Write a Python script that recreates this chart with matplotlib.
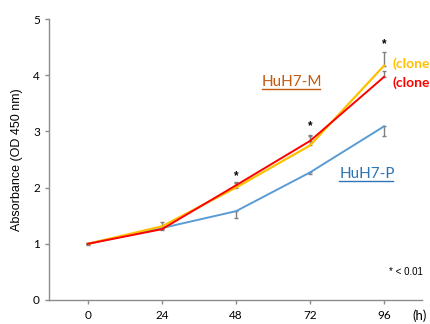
import matplotlib
matplotlib.use("Agg")
import matplotlib.pyplot as plt
import numpy as np

hours = [0, 24, 48, 72, 96]
clone_yellow = [1.00, 1.31, 2.00, 2.75, 4.17]
clone_red = [1.00, 1.26, 2.04, 2.83, 3.97]
huh7_p = [1.00, 1.28, 1.58, 2.27, 3.09]
err_yellow = [0.02, 0.07, 0.08, 0.16, 0.25]
err_red = [0.02, 0.03, 0.06, 0.10, 0.10]
err_blue = [0.02, 0.03, 0.12, 0.03, 0.18]
star_hours = [48, 72, 96]
star_y = [2.20, 3.10, 4.56]
yticks = [0, 1, 2, 3, 4, 5]

fig = plt.figure(figsize=(4.31, 3.24), dpi=100)
ax = fig.add_axes([49/431, 24/324, (422-49)/431, (300-19)/324])

grey = "#8c8c8c"
ecol = "#7f7f7f"
ax.errorbar(hours, huh7_p, yerr=[err_blue, [0]*5], fmt="none", ecolor=ecol, elinewidth=1, capsize=1.5, capthick=1, zorder=2)
ax.errorbar(hours, clone_yellow, yerr=[[0]*5, err_yellow], fmt="none", ecolor=ecol, elinewidth=1, capsize=1.5, capthick=1, zorder=2)
ax.errorbar(hours, clone_red, yerr=[[0]*5, err_red], fmt="none", ecolor=ecol, elinewidth=1, capsize=1.5, capthick=1, zorder=2)
ax.plot(hours, huh7_p, color="#5b9bd5", lw=1.4, zorder=3)
ax.plot(hours, clone_yellow, color="#ffc000", lw=1.6, zorder=3)
ax.plot(hours, clone_red, color="#ff0000", lw=1.4, zorder=4)
for h, y in zip(star_hours, star_y):
    ax.text(h, y, "*", ha="center", va="center", fontsize=8.5, fontweight="bold", family="Liberation Sans")

ax.set_xlim(-12.6, 108.3)
ax.set_ylim(0, 5)
ax.set_xticks(hours)
ax.set_yticks(yticks)
ax.tick_params(axis="both", colors=grey, labelcolor="black", length=3, width=1, direction="out")
for lab in ax.get_xticklabels() + ax.get_yticklabels():
    lab.set_family("Lato")
    lab.set_fontsize(8.5)
ax.tick_params(axis="x", pad=4)
for s in ["top", "right"]:
    ax.spines[s].set_visible(False)
for s in ["left", "bottom"]:
    ax.spines[s].set_color(grey)
    ax.spines[s].set_linewidth(1)

ax.set_ylabel("Absorbance (OD 450 nm)", fontsize=9, family="Liberation Sans", labelpad=7)

fig.text(420/431, 1-316/324, "(h)", fontsize=9.5, family="Lato", ha="center", va="center")
fig.text(262/431, 1-82/324, "HuH7-M", fontsize=11, family="Lato", color="#c55a11", ha="left", va="center")
fig.add_artist(plt.Line2D([262/431, 320/431], [1-88.5/324, 1-88.5/324], color="#c55a11", lw=1))
fig.text(340/431, 1-174/324, "HuH7-P", fontsize=11, family="Lato", color="#2e75b6", ha="left", va="center")
fig.add_artist(plt.Line2D([339/431, 393/431], [1-181/324, 1-181/324], color="#2e75b6", lw=1))
fig.text(393/431, 1-64/324, "(clone", fontsize=10, family="Lato", fontweight="bold", color="#ffc000", ha="left", va="center")
fig.text(393/431, 1-83/324, "(clone", fontsize=10, family="Lato", fontweight="bold", color="#ff0000", ha="left", va="center")
fig.text(389/431, 1-272/324, "* < 0.01", fontsize=7, family="Liberation Sans", ha="left", va="center")

fig.savefig("out.png", dpi=100)
